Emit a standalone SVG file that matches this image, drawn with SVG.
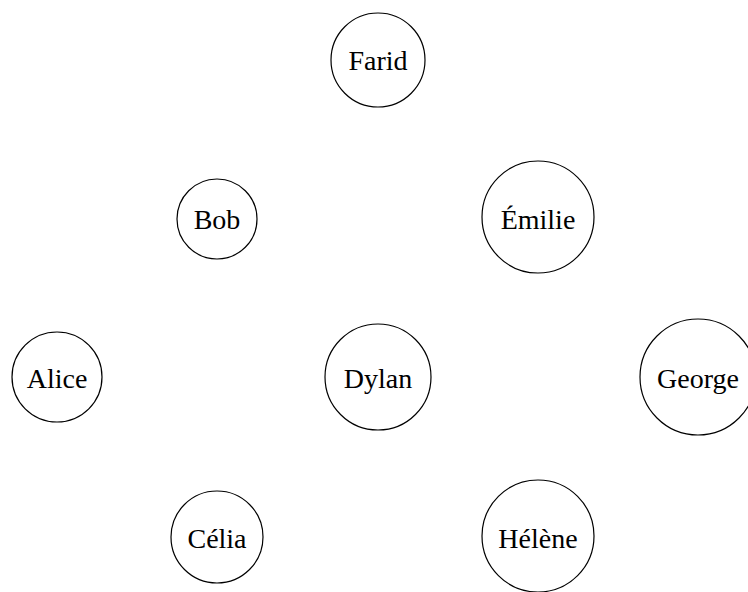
<svg xmlns="http://www.w3.org/2000/svg" width="748" height="592" viewBox="0 0 748 592">
<style>
circle{fill:#fff;stroke:#000;stroke-width:1.2}
text{font-family:"Liberation Serif","DejaVu Serif",serif;font-size:28px;text-anchor:middle;dominant-baseline:central;fill:#000}
</style>
<rect width="748" height="592" fill="#fff"/>
<g id="connectors"></g>
<g id="farid"><circle cx="378" cy="60" r="47"/><text x="378" y="60">Farid</text></g>
<g id="bob"><circle cx="217" cy="219" r="40"/><text x="217" y="219">Bob</text></g>
<g id="emilie"><circle cx="538" cy="217" r="56"/><text x="538" y="219">Émilie</text></g>
<g id="alice"><circle cx="57" cy="377" r="45"/><text x="57" y="378">Alice</text></g>
<g id="dylan"><circle cx="378" cy="377" r="53"/><text x="378" y="378">Dylan</text></g>
<g id="george"><circle cx="698" cy="377" r="58"/><text x="698" y="378">George</text></g>
<g id="celia"><circle cx="217" cy="537" r="46"/><text x="217" y="538">Célia</text></g>
<g id="helene"><circle cx="538" cy="536" r="56"/><text x="538" y="538">Hélène</text></g>
</svg>
